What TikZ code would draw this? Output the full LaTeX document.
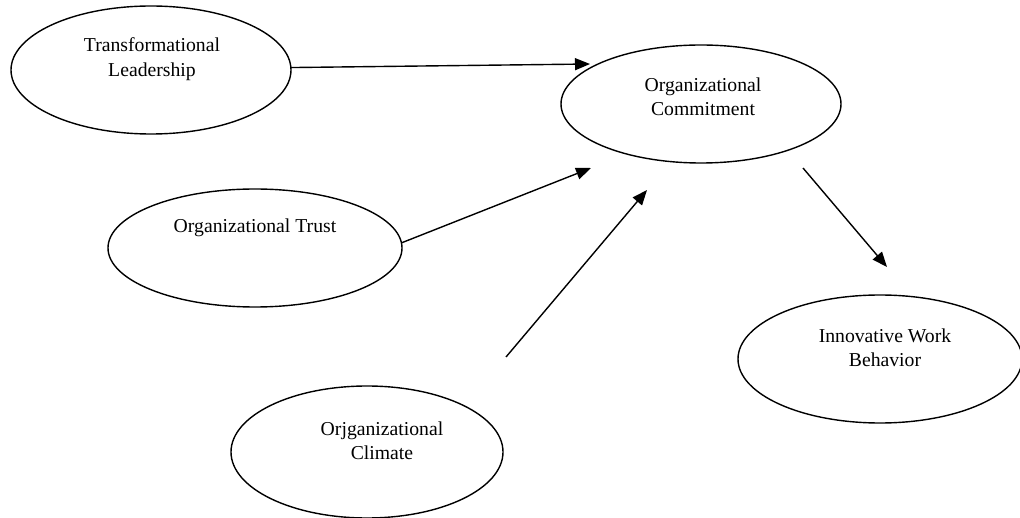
\documentclass[tikz,border=0pt]{standalone}
\usepackage{fontspec}
\setmainfont{Liberation Serif}
\usetikzlibrary{shapes.geometric,arrows.meta}
\begin{document}
\begin{tikzpicture}[x=1pt,y=-1pt,
  oval/.style={draw=black, line width=1.4pt, ellipse, inner sep=0pt, outer sep=0pt},
  lbl/.style={align=center, inner sep=0pt, font=\fontsize{19.7}{24.5}\selectfont},
  arr/.style={line width=1.4pt, -{Triangle[length=15pt,width=12pt]}}]
\useasboundingbox (0,0) rectangle (1020,518);
% ellipses
\node[oval, minimum width=280pt, minimum height=128pt] (tl) at (151,70) {};
\node[oval, minimum width=280pt, minimum height=118pt] (oc) at (701,104) {};
\node[oval, minimum width=294pt, minimum height=118pt] (ot) at (255,248) {};
\node[oval, minimum width=272pt, minimum height=132pt] (cl) at (367,452) {};
\node[oval, minimum width=284pt, minimum height=128pt] (iwb) at (880,359) {};
% labels
\node[lbl] (tltext) at (152,59) {Transformational\\Leadership};
\node[lbl] (octext) at (703,97) {Organizational\\Commitment};
\node[lbl] (ottext) at (255,228) {Organizational Trust};
\node[lbl] (cltext) at (382,441) {Orjganizational\\Climate};
\node[lbl] (iwbtext) at (885,348) {Innovative Work\\Behavior};
% connector ends
\coordinate (e1) at (590,64);
\coordinate (e2) at (591,168);
\coordinate (s3) at (506,357);
\coordinate (e3) at (647,190);
\coordinate (s4) at (803,168);
\coordinate (e4) at (887,267);
% connectors
\draw[arr] (tl.1.6) -- (e1);
\draw[arr] (ot.2) -- (e2);
\draw[arr] (s3) -- (e3);
\draw[arr] (s4) -- (e4);
\end{tikzpicture}
\end{document}
